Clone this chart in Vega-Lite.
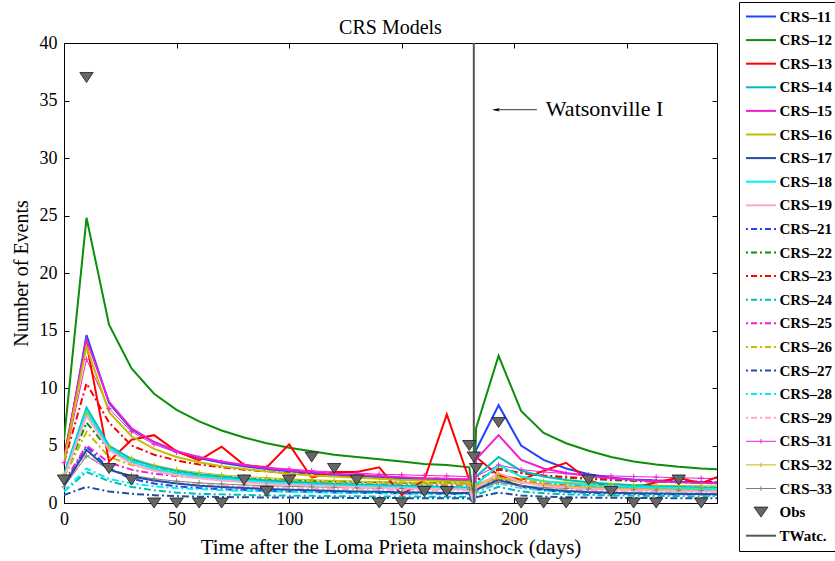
{
  "$schema": "https://vega.github.io/schema/vega-lite/v6.json",
  "autosize": {"type": "none"},
  "padding": {"left": 64, "top": 43, "right": 118, "bottom": 58},
  "width": 653,
  "height": 460,
  "title": {"text": "CRS Models", "font": "Liberation Serif", "fontSize": 20, "fontWeight": "normal", "color": "black", "anchor": "middle", "baseline": "alphabetic", "offset": 12, "dy": 64},
  "config": {
    "view": {"stroke": "black", "strokeWidth": 1},
    "axis": {"labelFont": "Liberation Serif", "titleFont": "Liberation Serif", "labelColor": "black", "titleColor": "black", "tickColor": "black", "domain": false, "grid": false, "titleFontWeight": "normal"}
  },
  "datasets": {
    "models": [
      {"t":0,"CRS-11":3.5,"CRS-12":5.5,"CRS-13":4.0,"CRS-14":2.5,"CRS-15":3.8,"CRS-16":3.6,"CRS-17":1.5,"CRS-18":2.3,"CRS-19":2.2,"CRS-21":1.6,"CRS-22":2.2,"CRS-23":3.5,"CRS-24":1.0,"CRS-25":1.8,"CRS-26":2.2,"CRS-27":0.7,"CRS-28":1.0,"CRS-29":1.5,"CRS-31":3.5,"CRS-32":2.5,"CRS-33":1.4},
      {"t":10,"CRS-11":14.6,"CRS-12":24.8,"CRS-13":13.9,"CRS-14":8.3,"CRS-15":14.2,"CRS-16":13.6,"CRS-17":4.6,"CRS-18":8.0,"CRS-19":7.6,"CRS-21":4.9,"CRS-22":7.0,"CRS-23":10.4,"CRS-24":2.7,"CRS-25":5.0,"CRS-26":6.2,"CRS-27":1.4,"CRS-28":3.0,"CRS-29":4.2,"CRS-31":12.5,"CRS-32":7.7,"CRS-33":4.1},
      {"t":20,"CRS-11":8.7,"CRS-12":15.5,"CRS-13":3.6,"CRS-14":5.0,"CRS-15":8.8,"CRS-16":7.9,"CRS-17":2.9,"CRS-18":4.8,"CRS-19":4.6,"CRS-21":3.0,"CRS-22":4.6,"CRS-23":7.0,"CRS-24":1.9,"CRS-25":3.5,"CRS-26":4.0,"CRS-27":1.0,"CRS-28":2.1,"CRS-29":2.9,"CRS-31":8.2,"CRS-32":4.9,"CRS-33":2.9},
      {"t":30,"CRS-11":6.4,"CRS-12":11.7,"CRS-13":5.5,"CRS-14":3.8,"CRS-15":6.5,"CRS-16":5.8,"CRS-17":2.3,"CRS-18":3.6,"CRS-19":3.4,"CRS-21":2.1,"CRS-22":3.6,"CRS-23":5.0,"CRS-24":1.4,"CRS-25":2.9,"CRS-26":3.3,"CRS-27":0.8,"CRS-28":1.7,"CRS-29":2.3,"CRS-31":6.2,"CRS-32":3.9,"CRS-33":2.4},
      {"t":40,"CRS-11":5.3,"CRS-12":9.5,"CRS-13":5.9,"CRS-14":3.2,"CRS-15":5.3,"CRS-16":4.7,"CRS-17":1.95,"CRS-18":3.0,"CRS-19":2.8,"CRS-21":1.7,"CRS-22":3.0,"CRS-23":4.2,"CRS-24":1.1,"CRS-25":2.55,"CRS-26":2.85,"CRS-27":0.68,"CRS-28":1.45,"CRS-29":1.95,"CRS-31":5.1,"CRS-32":3.3,"CRS-33":2.1},
      {"t":50,"CRS-11":4.5,"CRS-12":8.1,"CRS-13":4.5,"CRS-14":2.8,"CRS-15":4.5,"CRS-16":4.0,"CRS-17":1.7,"CRS-18":2.6,"CRS-19":2.4,"CRS-21":1.45,"CRS-22":2.7,"CRS-23":3.7,"CRS-24":0.9,"CRS-25":2.35,"CRS-26":2.55,"CRS-27":0.6,"CRS-28":1.3,"CRS-29":1.75,"CRS-31":4.4,"CRS-32":2.9,"CRS-33":1.9},
      {"t":60,"CRS-11":3.9,"CRS-12":7.1,"CRS-13":3.7,"CRS-14":2.5,"CRS-15":4.0,"CRS-16":3.55,"CRS-17":1.5,"CRS-18":2.3,"CRS-19":2.15,"CRS-21":1.3,"CRS-22":2.45,"CRS-23":3.35,"CRS-24":0.8,"CRS-25":2.2,"CRS-26":2.35,"CRS-27":0.55,"CRS-28":1.2,"CRS-29":1.6,"CRS-31":3.9,"CRS-32":2.65,"CRS-33":1.75},
      {"t":70,"CRS-11":3.5,"CRS-12":6.3,"CRS-13":4.9,"CRS-14":2.3,"CRS-15":3.6,"CRS-16":3.2,"CRS-17":1.4,"CRS-18":2.1,"CRS-19":1.95,"CRS-21":1.2,"CRS-22":2.3,"CRS-23":3.1,"CRS-24":0.75,"CRS-25":2.08,"CRS-26":2.2,"CRS-27":0.52,"CRS-28":1.12,"CRS-29":1.5,"CRS-31":3.55,"CRS-32":2.45,"CRS-33":1.65},
      {"t":80,"CRS-11":3.2,"CRS-12":5.7,"CRS-13":3.3,"CRS-14":2.1,"CRS-15":3.3,"CRS-16":2.95,"CRS-17":1.3,"CRS-18":1.95,"CRS-19":1.8,"CRS-21":1.12,"CRS-22":2.15,"CRS-23":2.9,"CRS-24":0.7,"CRS-25":1.98,"CRS-26":2.1,"CRS-27":0.5,"CRS-28":1.06,"CRS-29":1.42,"CRS-31":3.3,"CRS-32":2.3,"CRS-33":1.57},
      {"t":90,"CRS-11":2.95,"CRS-12":5.2,"CRS-13":3.1,"CRS-14":1.95,"CRS-15":3.05,"CRS-16":2.75,"CRS-17":1.22,"CRS-18":1.8,"CRS-19":1.68,"CRS-21":1.05,"CRS-22":2.05,"CRS-23":2.75,"CRS-24":0.67,"CRS-25":1.9,"CRS-26":2.0,"CRS-27":0.48,"CRS-28":1.01,"CRS-29":1.36,"CRS-31":3.1,"CRS-32":2.2,"CRS-33":1.5},
      {"t":100,"CRS-11":2.75,"CRS-12":4.8,"CRS-13":5.1,"CRS-14":1.85,"CRS-15":2.85,"CRS-16":2.55,"CRS-17":1.15,"CRS-18":1.7,"CRS-19":1.58,"CRS-21":1.0,"CRS-22":1.98,"CRS-23":2.6,"CRS-24":0.64,"CRS-25":1.84,"CRS-26":1.93,"CRS-27":0.47,"CRS-28":0.97,"CRS-29":1.3,"CRS-31":2.95,"CRS-32":2.1,"CRS-33":1.45},
      {"t":110,"CRS-11":2.6,"CRS-12":4.5,"CRS-13":2.2,"CRS-14":1.75,"CRS-15":2.7,"CRS-16":2.4,"CRS-17":1.1,"CRS-18":1.6,"CRS-19":1.5,"CRS-21":0.96,"CRS-22":1.92,"CRS-23":2.5,"CRS-24":0.62,"CRS-25":1.78,"CRS-26":1.87,"CRS-27":0.46,"CRS-28":0.94,"CRS-29":1.26,"CRS-31":2.8,"CRS-32":2.02,"CRS-33":1.4},
      {"t":120,"CRS-11":2.45,"CRS-12":4.2,"CRS-13":2.7,"CRS-14":1.65,"CRS-15":2.55,"CRS-16":2.3,"CRS-17":1.05,"CRS-18":1.55,"CRS-19":1.43,"CRS-21":0.92,"CRS-22":1.87,"CRS-23":2.4,"CRS-24":0.6,"CRS-25":1.73,"CRS-26":1.82,"CRS-27":0.45,"CRS-28":0.91,"CRS-29":1.22,"CRS-31":2.7,"CRS-32":1.96,"CRS-33":1.36},
      {"t":130,"CRS-11":2.35,"CRS-12":4.0,"CRS-13":2.7,"CRS-14":1.6,"CRS-15":2.45,"CRS-16":2.2,"CRS-17":1.0,"CRS-18":1.5,"CRS-19":1.37,"CRS-21":0.89,"CRS-22":1.83,"CRS-23":2.3,"CRS-24":0.58,"CRS-25":1.69,"CRS-26":1.77,"CRS-27":0.44,"CRS-28":0.88,"CRS-29":1.19,"CRS-31":2.6,"CRS-32":1.9,"CRS-33":1.32},
      {"t":140,"CRS-11":2.25,"CRS-12":3.8,"CRS-13":3.1,"CRS-14":1.55,"CRS-15":2.35,"CRS-16":2.1,"CRS-17":0.97,"CRS-18":1.45,"CRS-19":1.32,"CRS-21":0.86,"CRS-22":1.8,"CRS-23":2.25,"CRS-24":0.57,"CRS-25":1.65,"CRS-26":1.73,"CRS-27":0.43,"CRS-28":0.86,"CRS-29":1.16,"CRS-31":2.5,"CRS-32":1.85,"CRS-33":1.29},
      {"t":150,"CRS-11":2.15,"CRS-12":3.6,"CRS-13":0.7,"CRS-14":1.5,"CRS-15":2.25,"CRS-16":2.0,"CRS-17":0.94,"CRS-18":1.4,"CRS-19":1.27,"CRS-21":0.84,"CRS-22":1.77,"CRS-23":2.2,"CRS-24":0.56,"CRS-25":1.62,"CRS-26":1.69,"CRS-27":0.42,"CRS-28":0.84,"CRS-29":1.13,"CRS-31":2.45,"CRS-32":1.8,"CRS-33":1.26},
      {"t":160,"CRS-11":2.05,"CRS-12":3.4,"CRS-13":2.0,"CRS-14":1.45,"CRS-15":2.15,"CRS-16":1.95,"CRS-17":0.91,"CRS-18":1.35,"CRS-19":1.23,"CRS-21":0.82,"CRS-22":1.75,"CRS-23":2.15,"CRS-24":0.55,"CRS-25":1.59,"CRS-26":1.66,"CRS-27":0.41,"CRS-28":0.82,"CRS-29":1.11,"CRS-31":2.4,"CRS-32":1.76,"CRS-33":1.24},
      {"t":170,"CRS-11":2.0,"CRS-12":3.3,"CRS-13":7.7,"CRS-14":1.4,"CRS-15":2.1,"CRS-16":1.9,"CRS-17":0.88,"CRS-18":1.3,"CRS-19":1.2,"CRS-21":0.8,"CRS-22":1.73,"CRS-23":2.1,"CRS-24":0.54,"CRS-25":1.56,"CRS-26":1.63,"CRS-27":0.41,"CRS-28":0.8,"CRS-29":1.09,"CRS-31":2.35,"CRS-32":1.72,"CRS-33":1.22},
      {"t":180,"CRS-11":1.95,"CRS-12":3.1,"CRS-13":2.0,"CRS-14":1.35,"CRS-15":2.05,"CRS-16":1.85,"CRS-17":0.86,"CRS-18":1.25,"CRS-19":1.17,"CRS-21":0.78,"CRS-22":1.7,"CRS-23":2.05,"CRS-24":0.53,"CRS-25":1.54,"CRS-26":1.6,"CRS-27":0.4,"CRS-28":0.78,"CRS-29":1.07,"CRS-31":2.3,"CRS-32":1.7,"CRS-33":1.2},
      {"t":182,"CRS-11":0,"CRS-12":0,"CRS-13":0,"CRS-14":0,"CRS-15":0,"CRS-16":0,"CRS-17":0,"CRS-18":0,"CRS-19":0,"CRS-21":0,"CRS-22":0,"CRS-23":0,"CRS-24":0,"CRS-25":0,"CRS-26":0,"CRS-27":0,"CRS-28":0,"CRS-29":0,"CRS-31":0,"CRS-32":0,"CRS-33":0},
      {"t":183,"CRS-11":4.6,"CRS-12":6.5,"CRS-13":4.0,"CRS-14":2.3,"CRS-15":3.8,"CRS-16":1.5,"CRS-17":1.2,"CRS-18":1.6,"CRS-19":1.3,"CRS-21":1.1,"CRS-22":1.9,"CRS-23":2.0,"CRS-24":0.7,"CRS-25":1.4,"CRS-26":1.5,"CRS-27":0.5,"CRS-28":0.9,"CRS-29":1.1,"CRS-31":2.3,"CRS-32":1.6,"CRS-33":1.1},
      {"t":193,"CRS-11":8.5,"CRS-12":12.8,"CRS-13":2.4,"CRS-14":4.0,"CRS-15":5.9,"CRS-16":2.2,"CRS-17":2.0,"CRS-18":3.3,"CRS-19":2.6,"CRS-21":2.2,"CRS-22":3.0,"CRS-23":2.9,"CRS-24":1.4,"CRS-25":2.4,"CRS-26":2.3,"CRS-27":0.9,"CRS-28":1.7,"CRS-29":1.8,"CRS-31":3.3,"CRS-32":2.5,"CRS-33":1.8},
      {"t":203,"CRS-11":5.0,"CRS-12":8.0,"CRS-13":2.0,"CRS-14":2.8,"CRS-15":3.75,"CRS-16":1.8,"CRS-17":1.5,"CRS-18":2.3,"CRS-19":1.8,"CRS-21":1.4,"CRS-22":2.6,"CRS-23":2.6,"CRS-24":1.0,"CRS-25":1.9,"CRS-26":2.0,"CRS-27":0.65,"CRS-28":1.3,"CRS-29":1.4,"CRS-31":2.9,"CRS-32":2.1,"CRS-33":1.5},
      {"t":213,"CRS-11":3.75,"CRS-12":6.1,"CRS-13":2.8,"CRS-14":2.3,"CRS-15":3.0,"CRS-16":1.6,"CRS-17":1.2,"CRS-18":1.9,"CRS-19":1.5,"CRS-21":1.1,"CRS-22":2.35,"CRS-23":2.4,"CRS-24":0.85,"CRS-25":1.7,"CRS-26":1.8,"CRS-27":0.55,"CRS-28":1.1,"CRS-29":1.25,"CRS-31":2.7,"CRS-32":1.9,"CRS-33":1.35},
      {"t":223,"CRS-11":3.0,"CRS-12":5.2,"CRS-13":3.5,"CRS-14":2.0,"CRS-15":2.6,"CRS-16":1.45,"CRS-17":1.05,"CRS-18":1.7,"CRS-19":1.35,"CRS-21":0.95,"CRS-22":2.2,"CRS-23":2.25,"CRS-24":0.75,"CRS-25":1.6,"CRS-26":1.7,"CRS-27":0.5,"CRS-28":1.0,"CRS-29":1.15,"CRS-31":2.55,"CRS-32":1.8,"CRS-33":1.27},
      {"t":233,"CRS-11":2.5,"CRS-12":4.55,"CRS-13":2.0,"CRS-14":1.8,"CRS-15":2.35,"CRS-16":1.35,"CRS-17":0.95,"CRS-18":1.55,"CRS-19":1.25,"CRS-21":0.88,"CRS-22":2.1,"CRS-23":2.15,"CRS-24":0.7,"CRS-25":1.52,"CRS-26":1.6,"CRS-27":0.47,"CRS-28":0.95,"CRS-29":1.1,"CRS-31":2.45,"CRS-32":1.7,"CRS-33":1.22},
      {"t":243,"CRS-11":2.2,"CRS-12":4.0,"CRS-13":1.3,"CRS-14":1.65,"CRS-15":2.15,"CRS-16":1.3,"CRS-17":0.9,"CRS-18":1.45,"CRS-19":1.18,"CRS-21":0.83,"CRS-22":2.0,"CRS-23":2.05,"CRS-24":0.66,"CRS-25":1.46,"CRS-26":1.55,"CRS-27":0.45,"CRS-28":0.9,"CRS-29":1.05,"CRS-31":2.35,"CRS-32":1.65,"CRS-33":1.18},
      {"t":253,"CRS-11":2.05,"CRS-12":3.6,"CRS-13":1.3,"CRS-14":1.55,"CRS-15":2.0,"CRS-16":1.25,"CRS-17":0.85,"CRS-18":1.4,"CRS-19":1.12,"CRS-21":0.8,"CRS-22":1.92,"CRS-23":2.0,"CRS-24":0.63,"CRS-25":1.42,"CRS-26":1.5,"CRS-27":0.44,"CRS-28":0.87,"CRS-29":1.02,"CRS-31":2.3,"CRS-32":1.6,"CRS-33":1.15},
      {"t":263,"CRS-11":1.95,"CRS-12":3.35,"CRS-13":1.8,"CRS-14":1.45,"CRS-15":1.9,"CRS-16":1.22,"CRS-17":0.82,"CRS-18":1.35,"CRS-19":1.08,"CRS-21":0.78,"CRS-22":1.85,"CRS-23":1.95,"CRS-24":0.61,"CRS-25":1.38,"CRS-26":1.45,"CRS-27":0.43,"CRS-28":0.85,"CRS-29":1.0,"CRS-31":2.25,"CRS-32":1.55,"CRS-33":1.12},
      {"t":273,"CRS-11":1.85,"CRS-12":3.15,"CRS-13":2.2,"CRS-14":1.4,"CRS-15":1.8,"CRS-16":1.2,"CRS-17":0.8,"CRS-18":1.3,"CRS-19":1.05,"CRS-21":0.76,"CRS-22":1.8,"CRS-23":1.9,"CRS-24":0.6,"CRS-25":1.35,"CRS-26":1.42,"CRS-27":0.42,"CRS-28":0.83,"CRS-29":0.98,"CRS-31":2.2,"CRS-32":1.52,"CRS-33":1.1},
      {"t":283,"CRS-11":1.8,"CRS-12":3.0,"CRS-13":1.7,"CRS-14":1.35,"CRS-15":1.75,"CRS-16":1.2,"CRS-17":0.78,"CRS-18":1.25,"CRS-19":1.02,"CRS-21":0.75,"CRS-22":1.75,"CRS-23":1.85,"CRS-24":0.59,"CRS-25":1.32,"CRS-26":1.4,"CRS-27":0.41,"CRS-28":0.81,"CRS-29":0.96,"CRS-31":2.15,"CRS-32":1.5,"CRS-33":1.08},
      {"t":293,"CRS-11":1.75,"CRS-12":2.9,"CRS-13":2.5,"CRS-14":1.3,"CRS-15":1.7,"CRS-16":1.2,"CRS-17":0.76,"CRS-18":1.2,"CRS-19":1.0,"CRS-21":0.74,"CRS-22":1.7,"CRS-23":1.8,"CRS-24":0.58,"CRS-25":1.3,"CRS-26":1.38,"CRS-27":0.4,"CRS-28":0.8,"CRS-29":0.95,"CRS-31":2.1,"CRS-32":1.48,"CRS-33":1.06}
    ],
    "obs": [
      {"t":0,"events":2},{"t":10,"events":37},{"t":20,"events":3},{"t":30,"events":2},{"t":40,"events":0},{"t":50,"events":0},{"t":60,"events":0},{"t":70,"events":0},{"t":80,"events":2},{"t":90,"events":1},{"t":100,"events":2},{"t":110,"events":4},{"t":120,"events":3},{"t":130,"events":2},{"t":140,"events":0},{"t":150,"events":0},{"t":160,"events":1},{"t":170,"events":1},{"t":180,"events":5},{"t":182,"events":4},{"t":183,"events":3},{"t":193,"events":7},{"t":203,"events":0},{"t":213,"events":0},{"t":223,"events":0},{"t":233,"events":2},{"t":243,"events":1},{"t":253,"events":0},{"t":263,"events":0},{"t":273,"events":2},{"t":283,"events":0}
    ]
  },
  "resolve": {"axis": {"x": "independent", "y": "independent"}},
  "layer": [
    {
      "data": {"name": "models"},
      "transform": [
        {"fold": ["CRS-11","CRS-12","CRS-13","CRS-14","CRS-15","CRS-16","CRS-17","CRS-18","CRS-19","CRS-21","CRS-22","CRS-23","CRS-24","CRS-25","CRS-26","CRS-27","CRS-28","CRS-29","CRS-31","CRS-32","CRS-33"], "as": ["series","value"]},
        {"filter": {"field": "series", "oneOf": ["CRS-21","CRS-22","CRS-23","CRS-24","CRS-25","CRS-26","CRS-27","CRS-28","CRS-29"]}}
      ],
      "mark": {"type": "line", "strokeWidth": 2, "strokeDash": [7,3,2,3], "clip": true},
      "encoding": {
        "x": {"field": "t", "type": "quantitative", "axis": null},
        "y": {"field": "value", "type": "quantitative", "axis": null},
        "stroke": {"field": "series", "type": "nominal", "legend": null,
          "scale": {
            "domain": ["CRS-21","CRS-22","CRS-23","CRS-24","CRS-25","CRS-26","CRS-27","CRS-28","CRS-29","CRS-31","CRS-32","CRS-33"],
            "range": ["#1f45fc","#0b8f0b","#ff0000","#00bcbc","#f01ed2","#c4bd00","#1f4f9f","#00f0f0","#ffa8c8","#f01ed2","#c4bd00","#7f7f7f"]
          }
        }
      }
    },
    {
      "data": {"name": "models"},
      "transform": [
        {"fold": ["CRS-11","CRS-12","CRS-13","CRS-14","CRS-15","CRS-16","CRS-17","CRS-18","CRS-19","CRS-21","CRS-22","CRS-23","CRS-24","CRS-25","CRS-26","CRS-27","CRS-28","CRS-29","CRS-31","CRS-32","CRS-33"], "as": ["series","value"]},
        {"filter": {"field": "series", "oneOf": ["CRS-31","CRS-32","CRS-33"]}}
      ],
      "mark": {"type": "line", "strokeWidth": 1, "clip": true},
      "encoding": {
        "x": {"field": "t", "type": "quantitative", "axis": null},
        "y": {"field": "value", "type": "quantitative", "axis": null},
        "stroke": {"field": "series", "type": "nominal", "legend": null}
      }
    },
    {
      "data": {"name": "models"},
      "transform": [
        {"fold": ["CRS-11","CRS-12","CRS-13","CRS-14","CRS-15","CRS-16","CRS-17","CRS-18","CRS-19","CRS-21","CRS-22","CRS-23","CRS-24","CRS-25","CRS-26","CRS-27","CRS-28","CRS-29","CRS-31","CRS-32","CRS-33"], "as": ["series","value"]},
        {"filter": {"field": "series", "oneOf": ["CRS-11","CRS-12","CRS-13","CRS-14","CRS-15","CRS-16","CRS-17","CRS-18","CRS-19"]}}
      ],
      "mark": {"type": "line", "strokeWidth": 2, "clip": true},
      "encoding": {
        "x": {"field": "t", "type": "quantitative", "scale": {"domain": [0, 290], "nice": false, "zero": false},
          "axis": {"values": [0,50,100,150,200,250], "title": "Time after the Loma Prieta mainshock (days)", "tickSize": -5, "labelPadding": 12.5, "labelFontSize": 18, "titleFontSize": 21, "titlePadding": 8, "labelFlush": false, "labelOverlap": false}},
        "y": {"field": "value", "type": "quantitative", "scale": {"domain": [0, 40], "nice": false},
          "axis": {"values": [0,5,10,15,20,25,30,35,40], "title": "Number of Events", "tickSize": -5, "labelPadding": 12, "labelFontSize": 18, "titleFontSize": 20, "titlePadding": 8}},
        "color": {
          "field": "series", "type": "nominal",
          "scale": {
            "domain": ["CRS-11","CRS-12","CRS-13","CRS-14","CRS-15","CRS-16","CRS-17","CRS-18","CRS-19","CRS-21","CRS-22","CRS-23","CRS-24","CRS-25","CRS-26","CRS-27","CRS-28","CRS-29","CRS-31","CRS-32","CRS-33","Obs","T_Watc."],
            "range": ["#1f45fc","#0b8f0b","#ff0000","#00bcbc","#f01ed2","#c4bd00","#1f4f9f","#00f0f0","#ffa8c8","#1f45fc","#0b8f0b","#ff0000","#00bcbc","#f01ed2","#c4bd00","#1f4f9f","#00f0f0","#ffa8c8","#f01ed2","#c4bd00","#7f7f7f","#222222","#555555"]
          },
          "legend": {
            "orient": "none", "legendX": 675, "legendY": -41, "title": null,
            "padding": 7, "strokeColor": "black", "fillColor": "white",
            "rowPadding": 7.6, "labelFont": "Liberation Serif", "labelFontWeight": "bold", "labelFontSize": 15, "labelColor": "black",
            "labelOffset": 11, "symbolOffset": 7.5, "symbolSize": 100, "labelLimit": 0,
            "labelExpr": "datum.label == 'T_Watc.' ? 'TWatc.' : replace(datum.label, '-', '–')",
            "encode": {
              "symbols": {
                "update": {
                  "shape": {"signal": "(datum.value == 'Obs' ? 'M-1.4,-1L1.4,-1L0,1Z' : (indexof(['CRS-31','CRS-32','CRS-33'], datum.value) >= 0 ? 'M-3,0L3,0M0,-0.45L0,0.45' : 'M-3,0L3,0'))"},
                  "strokeDash": {"signal": "(indexof(['CRS-21','CRS-22','CRS-23','CRS-24','CRS-25','CRS-26','CRS-27','CRS-28','CRS-29'], datum.value) >= 0 ? [2,3,6,3] : [])"},
                  "strokeWidth": {"signal": "(datum.value == 'Obs' ? 0.8 : (indexof(['CRS-31','CRS-32','CRS-33'], datum.value) >= 0 ? 1 : 2))"},
                  "fill": {"signal": "(datum.value == 'Obs' ? '#666666' : 'transparent')"},
                  "stroke": {"scale": "color", "field": "value"},
                  "size": {"value": 100},
                  "opacity": {"value": 1}
                }
              }
            }
          }
        }
      }
    },
    {
      "data": {"name": "models"},
      "transform": [
        {"fold": ["CRS-31","CRS-32","CRS-33"], "as": ["series","value"]},
        {"filter": "datum.t != 182 && datum.t <= 290"}
      ],
      "mark": {"type": "point", "shape": "M-1,0L1,0M0,-1L0,1", "size": 30, "filled": false, "strokeWidth": 1, "opacity": 1},
      "encoding": {
        "x": {"field": "t", "type": "quantitative", "axis": null},
        "y": {"field": "value", "type": "quantitative", "axis": null},
        "stroke": {"field": "series", "type": "nominal", "legend": null}
      }
    },
    {
      "data": {"values": [{"t": 182}]},
      "mark": {"type": "rule", "color": "#555555", "strokeWidth": 2},
      "encoding": {
        "x": {"field": "t", "type": "quantitative", "axis": null}
      }
    },
    {
      "data": {"name": "obs"},
      "mark": {"type": "point", "shape": "M-1,-0.75L1,-0.75L0,0.75Z", "size": 180, "filled": true, "fill": "#666666", "stroke": "#1a1a1a", "strokeWidth": 0.8, "opacity": 1},
      "encoding": {
        "x": {"field": "t", "type": "quantitative", "axis": {"orient": "top", "values": [0,50,100,150,200,250], "labels": false, "title": null, "tickSize": -5}},
        "y": {"field": "events", "type": "quantitative", "axis": {"orient": "right", "values": [0,5,10,15,20,25,30,35,40], "labels": false, "title": null, "tickSize": -5}}
      }
    },
    {
      "data": {"values": [{"label": "Watsonville I"}]},
      "mark": {"type": "rule", "color": "black", "strokeWidth": 0.8},
      "encoding": {
        "x": {"datum": 191, "type": "quantitative", "axis": null},
        "x2": {"datum": 210},
        "y": {"datum": 34.2, "type": "quantitative", "axis": null}
      }
    },
    {
      "data": {"values": [{"label": "Watsonville I"}]},
      "mark": {"type": "point", "shape": "M-1,0L1,-0.45L0.55,0L1,0.45Z", "size": 64, "filled": true, "color": "black", "opacity": 1},
      "encoding": {
        "x": {"datum": 191.8, "type": "quantitative", "axis": null},
        "y": {"datum": 34.2, "type": "quantitative", "axis": null}
      }
    },
    {
      "data": {"values": [{"label": "Watsonville I"}]},
      "mark": {"type": "text", "align": "left", "baseline": "middle", "font": "Liberation Serif", "fontSize": 22, "color": "black"},
      "encoding": {
        "x": {"datum": 214, "type": "quantitative", "axis": null},
        "y": {"datum": 34.3, "type": "quantitative", "axis": null},
        "text": {"field": "label"}
      }
    }
  ]
}
